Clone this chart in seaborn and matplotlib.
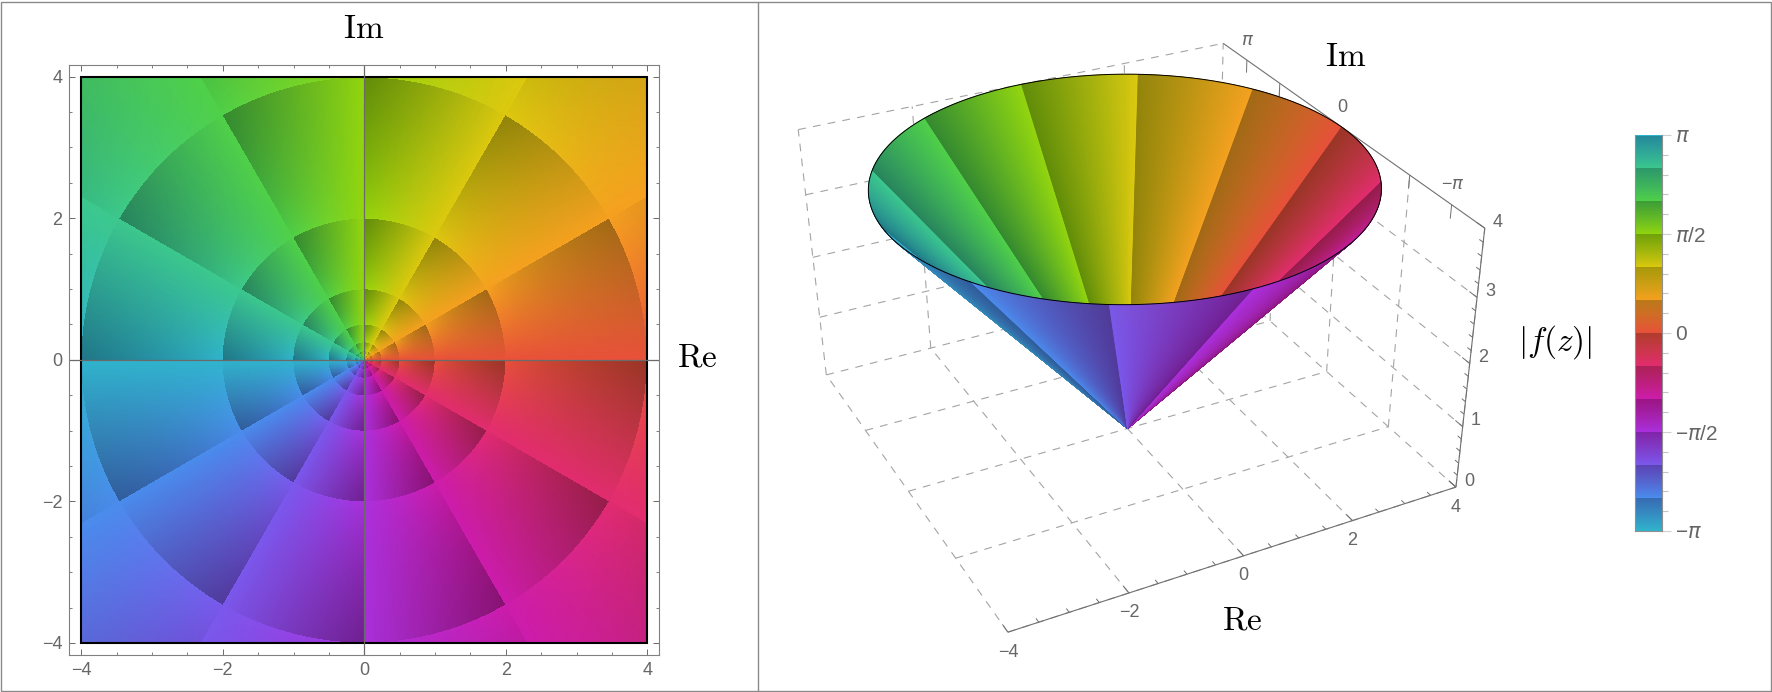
import numpy as np
import matplotlib
matplotlib.use("Agg")
import matplotlib.pyplot as plt
import seaborn as sns
from matplotlib.collections import PolyCollection
from matplotlib.colors import LinearSegmentedColormap
from matplotlib.patches import Rectangle

# phase colours (brightest value at each 30 degree ray)
phase_deg = [-180, -150, -120, -90, -60, -30, 0, 30, 60, 90, 120, 150, 180]
phase_hex = ["#30b4cc", "#4a8cec", "#7a58ec", "#aa30dc", "#cc1cac", "#e22c70", "#e8503a",
             "#f5a020", "#dcc80f", "#93d50e", "#50d048", "#3cc88c", "#30b4cc"]
sector_deg = 30
dark_2d = 0.34
dark_3d = 0.34
dark_bar = 0.24

ticks_major = [-4, -2, 0, 2, 4]
labels_major = ["\u22124", "\u22122", "0", "2", "4"]
ticks_minor = [-3.5, -3, -2.5, -1.5, -1, -0.5, 0.5, 1, 1.5, 2.5, 3, 3.5]
z_major = [0, 1, 2, 3, 4]
im_marks = [-np.pi, 0, np.pi]
im_labels = ["\u2212$\\pi$", "0", "$\\pi$"]
bar_ticks = [np.pi, np.pi / 2, 0, -np.pi / 2, -np.pi]
bar_labels = ["$\\pi$", "$\\pi$/2", "0", "\u2212$\\pi$/2", "\u2212$\\pi$"]
bar_minor = [k * np.pi / 10 for k in range(-10, 11) if k % 5 != 0]

# points of the 3D box as found in the picture: re, im, height -> pixel
anchor_re = [-4, -4, -4, -4, -4, -4, -2, -2, -2, -2, -2, -2, 0, 0, 2, 2, 2, 4, 4, 4, 4, 4, 4, 4, 4, 4]
anchor_im = [4, 4, 2, 0, -2, -4, 4, 4, 2, 0, -2, -4, 0, -4, 4, -4, -2, 4, 2, 0, -2, -4, 2, 0, -2, -4]
anchor_z = [4, 0, 0, 0, 0, 0, 4, 0, 0, 0, 0, 0, 0, 0, 4, 0, 0, 4, 4, 4, 4, 4, 0, 0, 0, 0]
anchor_u = [798.3, 826.7, 866, 909.3, 956.7, 1007.7, 912.3, 930.7, 973.3, 1020, 1070, 1128.3, 1127.7,
            1243.3, 1124, 1352.7, 1288.3, 1222.7, 1280, 1341.7, 1410, 1485, 1270, 1326.7, 1388.3, 1456.7]
anchor_v = [128.3, 375, 430.7, 491.7, 558.3, 631.7, 106, 348.3, 401.7, 459.3, 524, 592.3, 428.3,
            556, 63, 520, 458.3, 40.7, 90, 125, 178.3, 225, 320, 370, 426.7, 487.3]

W, H = 1772, 692
GRAY = "#6a6a6a"
TICK = "#666666"

sns.set_theme(style="white")
plt.rcParams["font.family"] = ["Liberation Sans", "DejaVu Sans"]
plt.rcParams["mathtext.fontset"] = "cm"

phase_cmap = LinearSegmentedColormap.from_list(
    "phase", [((d + 180) / 360, c) for d, c in zip(phase_deg, phase_hex)], N=1440)


def dark_cmap(k):
    return LinearSegmentedColormap.from_list("dark", [(0, 0, 0, 0), (0, 0, 0, k)], N=256)


def px_axes(x0, y0, x1, y1):
    return fig.add_axes([x0 / W, 1 - y1 / H, (x1 - x0) / W, (y1 - y0) / H])


fig = plt.figure(figsize=(W / 100, H / 100), dpi=100, facecolor="white")
bg = fig.add_axes([0, 0, 1, 1])
bg.set_xlim(0, W)
bg.set_ylim(H, 0)
bg.axis("off")
bg.add_patch(Rectangle((0.5, 1.5), W - 1, H - 3, fc="none", ec="#8a8a8a", lw=1))
bg.plot([758.5, 758.5], [1.5, H - 1.5], color="#8a8a8a", lw=1)

# left panel: phase field with the log-modulus and sector shading on top
N = 566
xs = np.linspace(-4, 4, N)
X, Y = np.meshgrid(xs, xs[::-1])
arg = np.arctan2(Y, X)
shade = np.mod(np.log2(np.hypot(X, Y)), 1) * np.mod(np.degrees(arg) / sector_deg, 1)

ax = px_axes(69.3, 65.2, 658.7, 655)
sns.heatmap(arg, ax=ax, cmap=phase_cmap, vmin=-np.pi, vmax=np.pi, cbar=False,
            xticklabels=False, yticklabels=False)
sns.heatmap(shade, ax=ax, cmap=dark_cmap(dark_2d), vmin=0, vmax=1, cbar=False,
            xticklabels=False, yticklabels=False)


def ix(v):
    return (np.asarray(v, dtype=float) + 4) / 8 * N


def iy(v):
    return (4 - np.asarray(v, dtype=float)) / 8 * N


ax.set_xlim(ix(-4.17), ix(4.16))
ax.set_ylim(iy(-4.17), iy(4.16))
ax.add_patch(Rectangle((0, 0), N, N, fc="none", ec="black", lw=1.5))
ax.axvline(ix(0), color=GRAY, lw=0.9)
ax.axhline(iy(0), color=GRAY, lw=0.9)
ax.set_xticks(ix(ticks_major), labels_major)
ax.set_yticks(iy(ticks_major), labels_major)
ax.set_xticks(ix(ticks_minor), minor=True)
ax.set_yticks(iy(ticks_minor), minor=True)
ax.tick_params(which="major", direction="in", length=4.5, width=0.7, color=GRAY, top=True, right=True,
               bottom=True, left=True, labelsize=13, labelcolor=TICK, pad=5)
ax.tick_params(which="minor", direction="in", length=2.5, width=0.6, color=GRAY, top=True, right=True,
               bottom=True, left=True)
ax.tick_params(axis="y", labelrotation=0)
for s in ax.spines.values():
    s.set_visible(True)
    s.set_color("#808080")
    s.set_linewidth(0.8)
bg.text(364, 29, r"$\mathrm{Im}$", fontsize=24, ha="center", va="center", color="black")
bg.text(697, 358, r"$\mathrm{Re}$", fontsize=24, ha="center", va="center", color="black")

# right panel: fit the camera of the 3D box, then draw everything through it
a3 = np.column_stack([anchor_re, anchor_im, anchor_z])
rows, rhs = [], []
for (a, b, c), u, v in zip(a3, anchor_u, anchor_v):
    rows.append([a, b, c, 1, 0, 0, 0, 0, -u * a, -u * b, -u * c])
    rhs.append(u)
    rows.append([0, 0, 0, 0, a, b, c, 1, -v * a, -v * b, -v * c])
    rhs.append(v)
cam = np.append(np.linalg.lstsq(np.array(rows, float), np.array(rhs, float), rcond=None)[0], 1).reshape(3, 4)


def project(re, im, z):
    re, im, z = np.broadcast_arrays(re, im, z)
    q = cam @ np.vstack([re.ravel(), im.ravel(), z.ravel(), np.ones(re.size)])
    return q[0] / q[2], q[1] / q[2], q[2]


def line3(p, q, **kw):
    u, v, _ = project([p[0], q[0]], [p[1], q[1]], [p[2], q[2]])
    bg.plot(u, v, solid_capstyle="butt", **kw)


grid_kw = dict(color="#a4a4a4", lw=0.8, linestyle=(0, (7, 6.5)))
for z in z_major[1:]:
    line3((-4, 4, z), (4, 4, z), **grid_kw)
    if z < 4:
        line3((4, 4, z), (4, -4, z), **grid_kw)
for re in ticks_major:
    line3((re, 4, 0), (re, 4, 4), **grid_kw)
    line3((re, -4, 0), (re, 4, 0), **grid_kw)
for im in ticks_major[:-1]:
    line3((-4, im, 0), (4, im, 0), **grid_kw)
    line3((4, im, 0), (4, im, 4), **grid_kw)
line3((-4, 4, 0), (4, 4, 0), **grid_kw)

axis_kw = dict(color="#707070", lw=0.8)
line3((-4, -4, 0), (4, -4, 0), **axis_kw)
line3((4, -4, 0), (4, -4, 4), **axis_kw)
line3((4, 4, 4), (4, -4, 4), **axis_kw)
tick_kw = dict(color="#707070", lw=0.7)
for re in ticks_major + ticks_minor:
    line3((re, -4, 0), (re, -3.8 if re in ticks_major else -3.9, 0), **tick_kw)
for z10 in range(0, 41, 2):
    z = z10 / 10
    line3((4, -4, z), (4, -3.8 if z10 % 10 == 0 else -3.9, z), **tick_kw)
for im in [-np.pi, -2, 0, 2, np.pi]:
    line3((4, im, 4), (4, im, 3.8), **tick_kw)

# cone: thin triangles from the apex, far ones first
n_th = 2160
edges = np.linspace(-np.pi, np.pi, n_th + 1)
mid = (edges[:-1] + edges[1:]) / 2
r_top = 4
u_rim, v_rim, w_rim = project(r_top * np.cos(edges), r_top * np.sin(edges), r_top)
u0, v0, _ = project(0, 0, 0)
base = phase_cmap((mid + np.pi) / (2 * np.pi))[:, :3]
fac = 1 - dark_3d * np.mod(np.degrees(mid) / sector_deg, 1)
cols = base * fac[:, None]
polys = [[(u0[0], v0[0]), (u_rim[i], v_rim[i]), (u_rim[i + 1], v_rim[i + 1])] for i in range(n_th)]
order = np.argsort(-(w_rim[:-1] + w_rim[1:]))
bg.add_collection(PolyCollection([polys[i] for i in order], facecolors=cols[order], edgecolors=cols[order],
                                 linewidths=0.4, zorder=3))
bg.plot(u_rim, v_rim, color="black", lw=0.7, zorder=4)

lab_kw = dict(fontsize=13, color=TICK, ha="center", va="center", math_fontfamily="dejavusans", zorder=5)
for val, lab in zip(ticks_major, labels_major):
    u, v, _ = project(val, -4, 0)
    bg.text(u[0], v[0] + 20, lab, **lab_kw)
for val in z_major:
    u, v, _ = project(4, -4, val)
    bg.text(u[0] + 13, v[0] - 6, str(val), **lab_kw)
for val, lab in zip(im_marks, im_labels):
    u, v, _ = project(4, val, 4)
    bg.text(u[0] + 1, v[0] - 20, lab, **lab_kw)
bg.text(1346, 57, r"$\mathrm{Im}$", fontsize=24, ha="center", va="center", color="black", zorder=5)
bg.text(1242, 621, r"$\mathrm{Re}$", fontsize=24, ha="center", va="center", color="black", zorder=5)
bg.text(1555, 342, r"$|f(z)|$", fontsize=24, ha="center", va="center", color="black", zorder=5)

# colour bar
M = 396
phase_bar = np.linspace(np.pi, -np.pi, M)[:, None]
shade_bar = np.mod(np.degrees(phase_bar) / sector_deg, 1)
cb = px_axes(1635, 135, 1662, 531)
sns.heatmap(phase_bar, ax=cb, cmap=phase_cmap, vmin=-np.pi, vmax=np.pi, cbar=False,
            xticklabels=False, yticklabels=False)
sns.heatmap(shade_bar, ax=cb, cmap=dark_cmap(dark_bar), vmin=0, vmax=1, cbar=False,
            xticklabels=False, yticklabels=False)


def ib(v):
    return (np.pi - np.asarray(v, dtype=float)) / (2 * np.pi) * M


cb.yaxis.tick_right()
cb.set_yticks(ib(bar_ticks), bar_labels, rotation=0, math_fontfamily="dejavusans")
cb.set_yticks(ib(bar_minor), minor=True)
cb.tick_params(which="major", axis="y", direction="out", length=6.5, width=0.8, color="#cfcfcf",
               labelsize=15, labelcolor=TICK, pad=3, right=True, left=False)
cb.tick_params(which="minor", axis="y", direction="out", length=4, width=0.8, color="#c4c4c4",
               right=True, left=False)
for name, s in cb.spines.items():
    s.set_visible(name in ("right", "bottom", "left"))
    s.set_color("#8f8f8f")
    s.set_linewidth(0.8)

fig.savefig("out.png", dpi=100, facecolor="white")
